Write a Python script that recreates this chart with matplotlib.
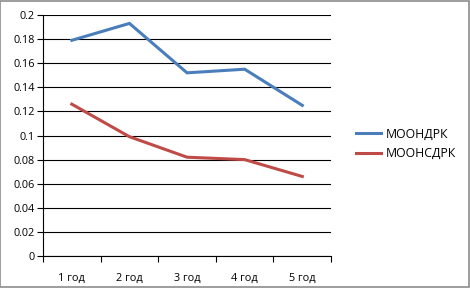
import matplotlib
matplotlib.use("Agg")
import matplotlib.pyplot as plt
from matplotlib.patches import Rectangle

categories = ["1 год", "2 год", "3 год", "4 год", "5 год"]
moondrk = [0.179, 0.193, 0.152, 0.155, 0.125]
moonsdrk = [0.126, 0.099, 0.082, 0.080, 0.066]
yticks = [0, 0.02, 0.04, 0.06, 0.08, 0.1, 0.12, 0.14, 0.16, 0.18, 0.2]
ylabels = ["0", "0.02", "0.04", "0.06", "0.08", "0.1", "0.12", "0.14", "0.16", "0.18", "0.2"]

plt.rcParams['font.family'] = ['Open Sans', 'DejaVu Sans']
plt.rcParams['font.size'] = 7.8

fig = plt.figure(figsize=(4.7, 2.88), dpi=100)
ax = fig.add_axes([0.0915, 0.111, 0.613, 0.837])

x = list(range(len(categories)))
ax.plot(x, moondrk, color='#4A7EBB', lw=2.2, label='МООНДРК', solid_joinstyle='miter')
ax.plot(x, moonsdrk, color='#BE4B48', lw=2.2, label='МООНСДРК', solid_joinstyle='miter')

ax.set_xlim(-0.5, len(categories) - 0.5)
ax.set_ylim(0, 0.2)
ax.set_yticks(yticks)
ax.set_yticklabels(ylabels)
ax.set_xticks([i - 0.5 for i in range(len(categories) + 1)])
ax.set_xticklabels([])
ax.set_xticks(x, minor=True)
ax.set_xticklabels(categories, minor=True)
ax.tick_params(axis='x', which='major', length=4, direction='out', width=0.8)
ax.tick_params(axis='x', which='minor', length=0, pad=12)
ax.tick_params(axis='y', length=4, direction='out', width=0.8, pad=2)
ax.grid(axis='y', color='black', lw=0.8)
ax.set_axisbelow(True)
for s in ['top', 'right']:
    ax.spines[s].set_visible(False)
for s in ['left', 'bottom']:
    ax.spines[s].set_linewidth(0.8)

fig.legend(loc='center left', bbox_to_anchor=(0.735, 0.5), frameon=False,
           fontsize=8.8, handlelength=2.0, handletextpad=0.4, labelspacing=0.55)

fig.patches.append(Rectangle((0.001, 0.002), 0.997, 0.995, transform=fig.transFigure,
                             fill=False, edgecolor='#8c8c8c', lw=1.2))

fig.savefig("out.png", dpi=100)
